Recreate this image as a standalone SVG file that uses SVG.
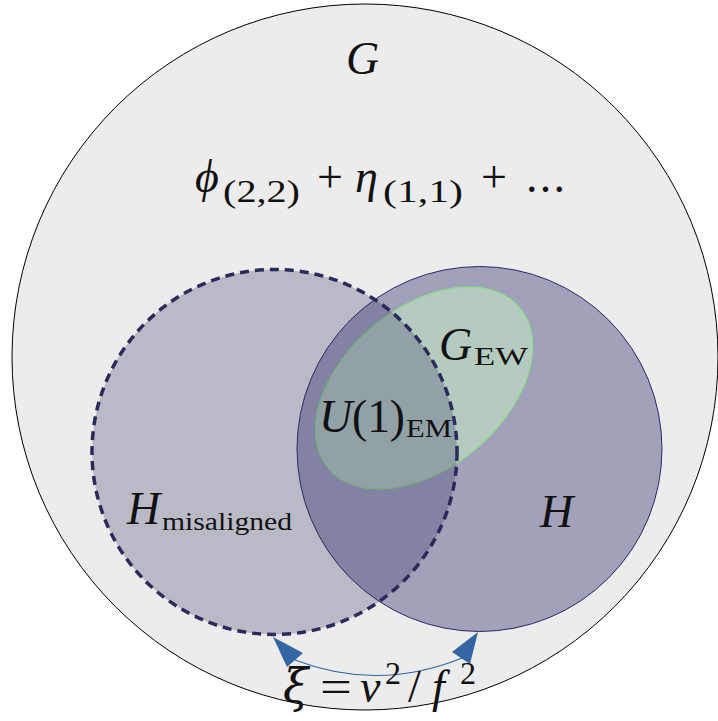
<svg xmlns="http://www.w3.org/2000/svg" width="718" height="721" viewBox="0 0 718 721">
<style>
text{font-family:"Liberation Serif","DejaVu Serif",serif;fill:#111}
.it{font-style:italic}
.m{font-size:46px}
.s{font-size:32px}
.ss{font-size:25px}
.dj{font-family:"DejaVu Serif",serif}
</style>
<rect width="718" height="721" fill="#ffffff"/>
<g id="G">
<circle cx="365" cy="357" r="353" fill="#ececec" stroke="#000" stroke-width="1"/>
<text class="m it" x="346" y="74">G</text>
<text class="m it" x="195" y="192">ϕ</text>
<text class="s" x="223" y="202" textLength="77" lengthAdjust="spacingAndGlyphs">(2,2)</text>
<text class="m" x="330" y="192" text-anchor="middle">+</text>
<text class="m it" x="355" y="192">η</text>
<text class="s" x="383" y="202" textLength="80" lengthAdjust="spacingAndGlyphs">(1,1)</text>
<text class="m" x="494" y="192" text-anchor="middle">+</text>
<text class="m" x="526" y="192" textLength="39" lengthAdjust="spacing">...</text>
</g>
<g id="H">
<circle cx="479.5" cy="449" r="182.5" fill="#13125a" fill-opacity="0.34" stroke="#2a2a6a" stroke-width="1"/>
<text class="m it" x="540" y="527">H</text>
</g>
<g id="GEW">
<ellipse cx="424" cy="388" rx="125" ry="80" transform="rotate(-40 424 388)" fill="#ccf5c4" fill-opacity="0.5" stroke="#8fdc8a" stroke-width="1.2"/>
<text class="m it" x="439" y="360">G</text>
<text class="ss" x="474" y="365" textLength="54" lengthAdjust="spacingAndGlyphs">EW</text>
</g>
<g id="Hmis">
<circle cx="274.5" cy="452" r="182.5" fill="#2b2a5c" fill-opacity="0.26" stroke="#2b2a5c" stroke-width="3.5" stroke-dasharray="9,6"/>
<text class="m it" x="127" y="524">H</text>
<text class="ss" x="162" y="530" textLength="130" lengthAdjust="spacingAndGlyphs">misaligned</text>
</g>
<g id="U1">
<text class="m it" x="319" y="432">U</text>
<text class="m" x="352" y="432" textLength="53" lengthAdjust="spacingAndGlyphs">(1)</text>
<text class="ss" x="406" y="437" textLength="46" lengthAdjust="spacingAndGlyphs">EM</text>
</g>
<g id="connectors">
<path d="M 295 660 Q 378 692 462 658" fill="none" stroke="#3465a4" stroke-width="1.2"/>
<polygon points="273,637 303,653 287,667" fill="#3465a4"/>
<polygon points="478,632 452,652 470,664" fill="#3465a4"/>
<text class="m it dj" x="283" y="702" font-size="42">ξ</text>
<text class="m" x="336" y="702" text-anchor="middle" textLength="32" lengthAdjust="spacingAndGlyphs">=</text>
<text class="m it" x="360" y="702">v</text>
<text class="s" x="385" y="684">2</text>
<text class="m" x="408" y="702">/</text>
<text class="m it" x="432" y="702">f</text>
<text class="s" x="460" y="684">2</text>
</g>
</svg>
